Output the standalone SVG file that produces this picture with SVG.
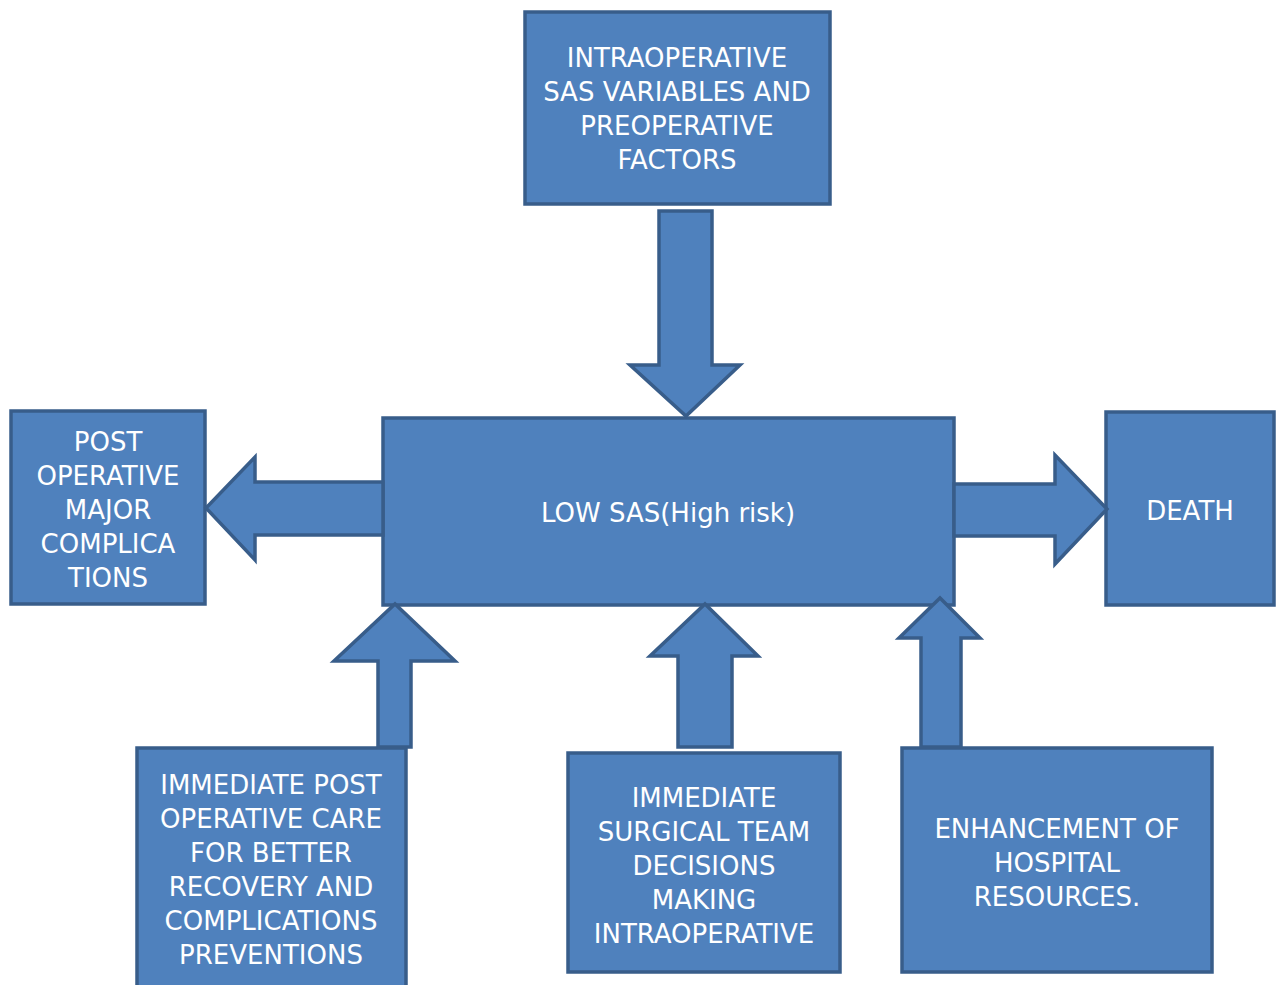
<svg xmlns="http://www.w3.org/2000/svg" width="1280" height="985" viewBox="0 0 1280 985">
<style>
.box{fill:#4F81BD;stroke:#385D8A;stroke-width:3.5}
.arr{fill:#4F81BD;stroke:#385D8A;stroke-width:3.5;stroke-linejoin:miter}
text{font-family:"DejaVu Sans",sans-serif;font-size:26px;fill:#FFFFFF;text-anchor:middle}
</style>
<rect width="1280" height="985" fill="#FFFFFF"/>
<g id="node-top">
<rect class="box" x="525" y="12" width="305" height="192"/>
<text x="677" y="67">INTRAOPERATIVE</text>
<text x="677" y="101">SAS VARIABLES AND</text>
<text x="677" y="135">PREOPERATIVE</text>
<text x="677" y="169">FACTORS</text>
</g>
<g id="node-center">
<rect class="box" x="383" y="418" width="571" height="187"/>
<text x="668" y="522">LOW SAS(High risk)</text>
</g>
<g id="node-left">
<rect class="box" x="11" y="411" width="194" height="193"/>
<text x="108" y="451">POST</text>
<text x="108" y="485">OPERATIVE</text>
<text x="108" y="519">MAJOR</text>
<text x="108" y="553">COMPLICA</text>
<text x="108" y="587">TIONS</text>
</g>
<g id="node-death">
<rect class="box" x="1106" y="412" width="168" height="193"/>
<text x="1190" y="520">DEATH</text>
</g>
<g id="node-care">
<rect class="box" x="137" y="748" width="269" height="245"/>
<text x="271" y="794">IMMEDIATE POST</text>
<text x="271" y="828">OPERATIVE CARE</text>
<text x="271" y="862">FOR BETTER</text>
<text x="271" y="896">RECOVERY AND</text>
<text x="271" y="930">COMPLICATIONS</text>
<text x="271" y="964">PREVENTIONS</text>
</g>
<g id="node-team">
<rect class="box" x="568" y="753" width="272" height="219"/>
<text x="704" y="807">IMMEDIATE</text>
<text x="704" y="841">SURGICAL TEAM</text>
<text x="704" y="875">DECISIONS</text>
<text x="704" y="909">MAKING</text>
<text x="704" y="943">INTRAOPERATIVE</text>
</g>
<g id="node-resources">
<rect class="box" x="902" y="748" width="310" height="224"/>
<text x="1057" y="838">ENHANCEMENT OF</text>
<text x="1057" y="872">HOSPITAL</text>
<text x="1057" y="906">RESOURCES.</text>
</g>
<g id="connectors">
<polygon class="arr" points="659,211 712,211 712,365 740,365 686,416 630,365 659,365"/>
<polygon class="arr" points="383,482 255,482 255,457 206,508 255,560 255,535 383,535"/>
<polygon class="arr" points="954,484 1055,484 1055,455 1107,509 1055,564 1055,536 954,536"/>
<polygon class="arr" points="378,747 378,661 334,661 395,604 455,661 411,661 411,747"/>
<polygon class="arr" points="678,747 678,656 650,656 705,604 758,656 732,656 732,747"/>
<polygon class="arr" points="921,747 921,638 899,638 940,598 980,638 961,638 961,747"/>
</g>
</svg>
